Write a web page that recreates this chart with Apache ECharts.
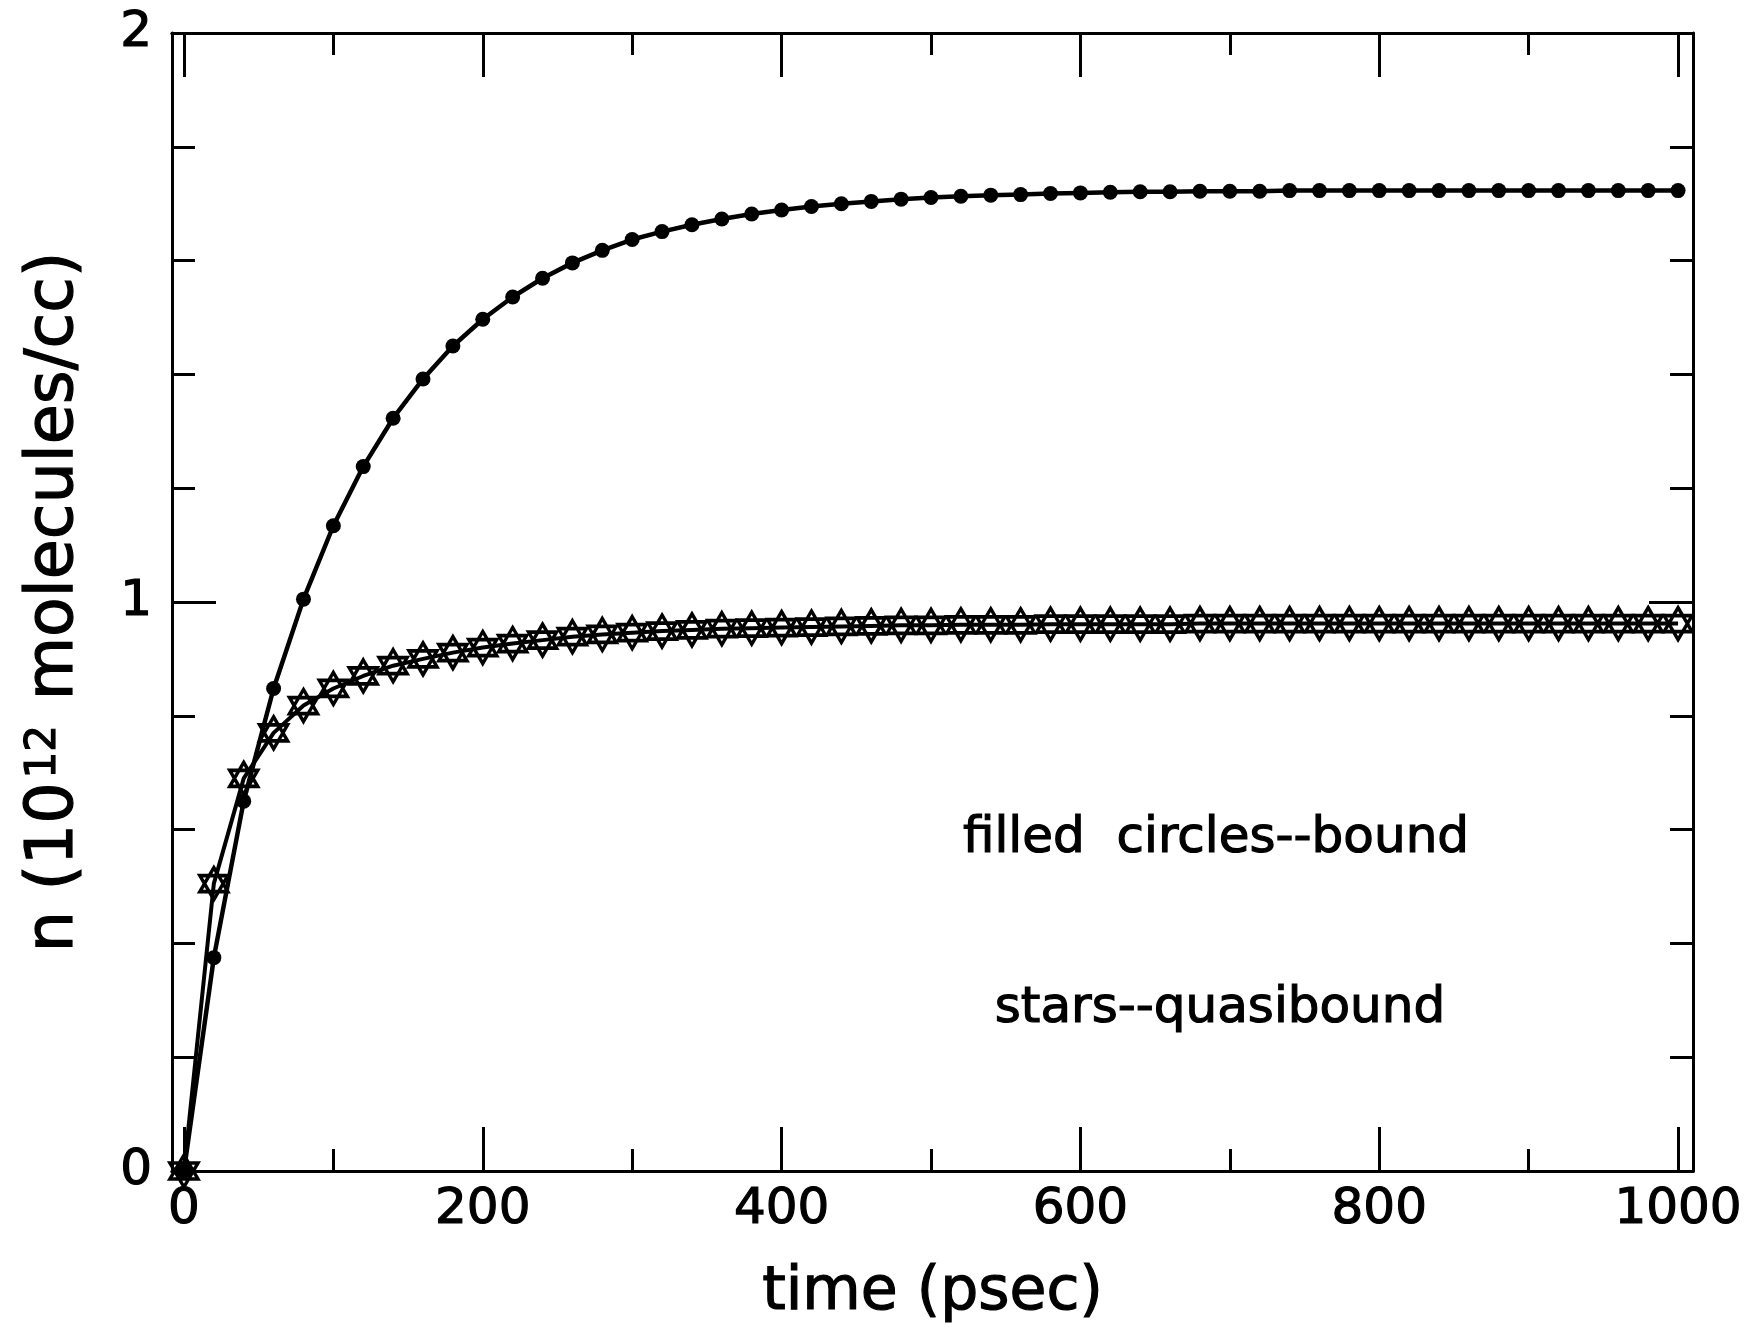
<!DOCTYPE html>
<html>
<head>
<meta charset="utf-8">
<title>bound / quasibound</title>
<script src="https://cdn.jsdelivr.net/npm/echarts@6/dist/echarts.min.js"></script>
<style>
  html, body { margin: 0; padding: 0; background: #fff; }
  #chart { width: 1749px; height: 1335px; }
</style>
</head>
<body>
<div id="chart"></div>
<script>
// time axis (psec), one point every 20 psec
const times = [
  0, 20, 40, 60, 80, 100, 120, 140, 160, 180,
  200, 220, 240, 260, 280, 300, 320, 340, 360, 380,
  400, 420, 440, 460, 480, 500, 520, 540, 560, 580,
  600, 620, 640, 660, 680, 700, 720, 740, 760, 780,
  800, 820, 840, 860, 880, 900, 920, 940, 960, 980, 1000
];

// filled circles -- bound
const bound = [
  0, 0.375, 0.65, 0.848, 1.005, 1.134, 1.238, 1.323, 1.392, 1.450,
  1.497, 1.536, 1.569, 1.596, 1.618, 1.637, 1.651, 1.663, 1.673, 1.682,
  1.689, 1.695, 1.700, 1.704, 1.708, 1.711, 1.713, 1.715, 1.716, 1.718,
  1.719, 1.720, 1.721, 1.721, 1.722, 1.722, 1.722, 1.723, 1.723, 1.723,
  1.723, 1.723, 1.723, 1.723, 1.723, 1.723, 1.723, 1.723, 1.723, 1.723, 1.723
];

// stars -- quasibound
const quasibound = [
  0, 0.505, 0.69, 0.77, 0.818, 0.848, 0.87, 0.888, 0.900, 0.911,
  0.920, 0.927, 0.933, 0.939, 0.943, 0.946, 0.949, 0.951, 0.953, 0.954,
  0.955, 0.956, 0.957, 0.958, 0.959, 0.959, 0.960, 0.960, 0.960, 0.961,
  0.961, 0.961, 0.961, 0.961, 0.962, 0.962, 0.962, 0.962, 0.962, 0.962,
  0.962, 0.962, 0.962, 0.962, 0.962, 0.962, 0.962, 0.962, 0.962, 0.962, 0.962
];

// tick values
const xMajorTicks = [0, 200, 400, 600, 800, 1000];
const xMinorTicks = [100, 300, 500, 700, 900];

const FONT = '"DejaVu Sans", sans-serif';
const BLACK = '#000';
// thin outline so the text looks like the heavier plotter lettering
const INK = { textBorderColor: BLACK, textBorderWidth: 1.2 };

// star of david: two overlapping triangles
const hexagram = 'path://M0,-100L86.6,50L-86.6,50ZM0,100L86.6,-50L-86.6,-50Z';

function pairs(ys) {
  return times.map((t, i) => [t, ys[i]]);
}

function xAxisOf(position, ticks, len, withLabels) {
  return {
    type: 'value',
    position: position,
    min: -8,
    max: 1010,
    axisLine: { show: true, onZero: false, lineStyle: { color: BLACK, width: 3 } },
    axisTick: {
      show: true,
      inside: true,
      length: len,
      customValues: ticks,
      lineStyle: { color: BLACK, width: 3 },
    },
    axisLabel: Object.assign({
      show: withLabels,
      customValues: ticks,
      formatter: (v) => String(v),
      margin: 14,
      color: BLACK,
      fontSize: 50,
      fontFamily: FONT,
    }, INK),
    splitLine: { show: false },
  };
}

function yAxisOf(position, withLabels) {
  return {
    type: 'value',
    position: position,
    min: 0,
    max: 2,
    interval: 1,
    axisLine: { show: true, onZero: false, lineStyle: { color: BLACK, width: 3 } },
    axisTick: { show: true, inside: true, length: 44, lineStyle: { color: BLACK, width: 3 } },
    minorTick: { show: true, splitNumber: 5, length: 23, lineStyle: { color: BLACK, width: 3 } },
    axisLabel: Object.assign({
      show: withLabels,
      formatter: (v) => String(v),
      margin: 20,
      color: BLACK,
      fontSize: 50,
      fontFamily: FONT,
    }, INK),
    splitLine: { show: false },
    minorSplitLine: { show: false },
  };
}

const xBottom = xAxisOf('bottom', xMajorTicks, 44, true);
xBottom.name = 'time (psec)';
xBottom.nameLocation = 'middle';
xBottom.nameGap = 92;
xBottom.nameTextStyle = Object.assign({ color: BLACK, fontSize: 60, fontFamily: FONT }, INK);

const yLeft = yAxisOf('left', true);
yLeft.name = '{a|n (10}{s|12}{a| molecules/cc)}';
yLeft.nameLocation = 'middle';
yLeft.nameGap = 84;
yLeft.nameTextStyle = {
  color: BLACK,
  fontSize: 65,
  fontFamily: FONT,
  rich: {
    a: Object.assign({ fontSize: 65, fontFamily: FONT, color: BLACK }, INK),
    s: Object.assign({ fontSize: 42, fontFamily: FONT, color: BLACK, verticalAlign: 'top', padding: [0, 4, 0, 4] }, INK),
  },
};

const option = {
  animation: false,
  backgroundColor: '#fff',
  grid: { left: 172, top: 33, width: 1521, height: 1138, containLabel: false },
  xAxis: [
    xBottom,
    xAxisOf('bottom', xMinorTicks, 22, false),
    xAxisOf('top', xMajorTicks, 44, false),
    xAxisOf('top', xMinorTicks, 22, false),
  ],
  yAxis: [yLeft, yAxisOf('right', false)],
  graphic: [
    {
      type: 'text',
      x: 1216,
      y: 839,
      style: {
        text: 'filled  circles--bound',
        font: '50px ' + FONT,
        fill: BLACK,
        stroke: BLACK,
        lineWidth: 1.2,
        align: 'center',
        verticalAlign: 'middle',
      },
    },
    {
      type: 'text',
      x: 1220,
      y: 1009,
      style: {
        text: 'stars--quasibound',
        font: '50px ' + FONT,
        fill: BLACK,
        stroke: BLACK,
        lineWidth: 1.2,
        align: 'center',
        verticalAlign: 'middle',
      },
    },
  ],
  series: [
    {
      name: 'bound',
      type: 'line',
      xAxisIndex: 0,
      yAxisIndex: 0,
      data: pairs(bound),
      symbol: 'circle',
      symbolSize: 15,
      showAllSymbol: true,
      itemStyle: { color: BLACK },
      lineStyle: { color: BLACK, width: 4.5 },
    },
    {
      name: 'quasibound',
      type: 'line',
      xAxisIndex: 0,
      yAxisIndex: 0,
      data: pairs(quasibound),
      symbol: hexagram,
      symbolSize: [28, 32],
      showAllSymbol: true,
      itemStyle: { color: 'rgba(0,0,0,0)', borderColor: BLACK, borderWidth: 3.5 },
      lineStyle: { color: BLACK, width: 4 },
    },
  ],
};

const chart = echarts.init(document.getElementById('chart'));
chart.setOption(option);
</script>
</body>
</html>
